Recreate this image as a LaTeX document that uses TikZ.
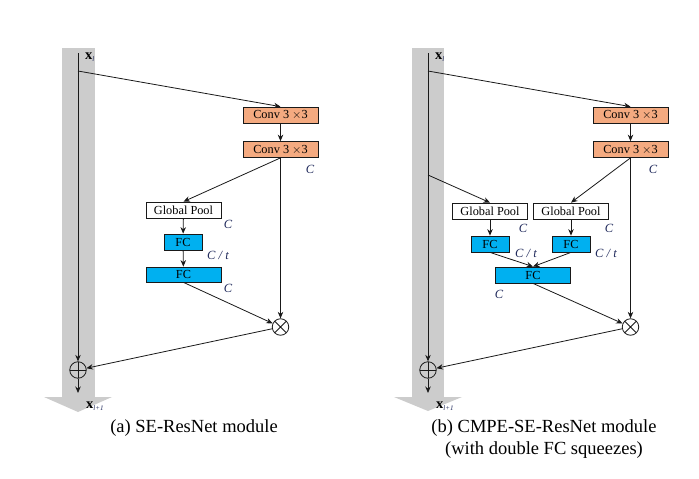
\documentclass[tikz,border=0pt]{standalone}
\usepackage{fontspec}
\setmainfont{Liberation Serif}
\usetikzlibrary{arrows.meta}
\definecolor{convc}{RGB}{244,170,128}
\definecolor{fcc}{RGB}{0,176,240}
\definecolor{bandc}{RGB}{204,204,204}
\definecolor{labc}{RGB}{30,40,90}
\definecolor{linec}{RGB}{25,25,25}
\tikzset{
  blk/.style={draw=linec, line width=0.75pt, inner sep=0pt, minimum height=16pt, font=\fontsize{12.3}{13}\selectfont},
  convbox/.style={blk, fill=convc, minimum width=75pt},
  poolbox/.style={blk, fill=white, minimum width=75pt},
  fcs/.style={blk, fill=fcc, minimum width=38pt},
  fcw/.style={blk, fill=fcc, minimum width=75pt},
  dimlab/.style={font=\fontsize{12.5}{13}\selectfont\itshape, text=labc, inner sep=0pt},
  xlab/.style={font=\fontsize{14.5}{15}\selectfont, inner sep=0pt, anchor=base west},
  conn/.style={draw=linec, line width=0.8pt},
  arr/.style={conn, -{Stealth[length=6.5pt,width=5.5pt]}},
  opc/.style={circle, draw=linec, line width=0.8pt, minimum size=16.5pt, inner sep=0pt},
  mulop/.style={opc, path picture={\draw[linec,line width=0.8pt] (path picture bounding box.north west)--(path picture bounding box.south east) (path picture bounding box.north east)--(path picture bounding box.south west);}},
  addop/.style={opc, path picture={\draw[linec,line width=0.8pt] (path picture bounding box.north)--(path picture bounding box.south) (path picture bounding box.east)--(path picture bounding box.west);}},
  captext/.style={font=\fontsize{18.5}{22}\selectfont, align=center, inner sep=0pt}
}
\newcommand{\subl}[1]{\raisebox{-2.5pt}{\fontsize{7}{8}\selectfont\color{labc}\textit{#1}}}
\begin{document}
\begin{tikzpicture}[x=1pt,y=-1pt]
\useasboundingbox (0,0) rectangle (699,479);
% bands
\fill[bandc] (62,48) rectangle (95,397);
\fill[bandc] (44,397) -- (112,397) -- (78,412) -- cycle;
\fill[bandc] (412,48) rectangle (444,397);
\fill[bandc] (394,397) -- (462,397) -- (428,411) -- cycle;

% ---------- left panel ----------
\coordinate (atop) at (78,53);
\coordinate (abr) at (78,71);
\coordinate (aout) at (78,393);
\node[xlab] (axl) at (85,59) {\textbf{x}\subl{l}};
\node[xlab] (axl1) at (86,408) {\textbf{x}\subl{l+1}};
\node[convbox] (aconv1) at (280.5,115) {Conv 3 $\times$3};
\node[convbox] (aconv2) at (280.5,149.5) {Conv 3 $\times$3};
\node[poolbox] (agp) at (183.5,210) {Global Pool};
\node[fcs] (afc1) at (183,242) {FC};
\node[fcw, minimum height=15pt] (afc2) at (183.5,274.5) {FC};
\node[mulop] (amul) at (280.5,327) {};
\node[addop] (aadd) at (78,370) {};
\node[dimlab] (acl1) at (310,169) {C};
\node[dimlab] (acl2) at (228,224) {C};
\node[dimlab] (acl3) at (218,255) {C / t};
\node[dimlab] (acl4) at (228,288) {C};
\node[captext] (acap) at (194,428) {(a) SE-ResNet module};

\draw[arr] (atop) -- (aadd);
\draw[arr] (abr) -- (aconv1.north);
\draw[arr] (aconv1) -- (aconv2);
\draw[arr] (aconv2.south) -- (agp.north);
\draw[arr] (agp) -- (afc1);
\draw[arr] (afc1) -- (afc2);
\draw[arr] (afc2.south) -- (amul);
\draw[arr] (aconv2.south) -- (amul);
\draw[arr] (amul) -- (aadd);
\draw[arr] (aadd) -- (aout);

% ---------- right panel ----------
\coordinate (btop) at (428,53);
\coordinate (bbr) at (428,71);
\coordinate (bbr2) at (428,175);
\coordinate (bout) at (428,393);
\node[xlab] (bxl) at (435,59) {\textbf{x}\subl{l}};
\node[xlab] (bxl1) at (436,408) {\textbf{x}\subl{l+1}};
\node[convbox] (bconv1) at (630.5,115) {Conv 3 $\times$3};
\node[convbox] (bconv2) at (630.5,149.5) {Conv 3 $\times$3};
\node[poolbox] (bgp1) at (490,211) {Global Pool};
\node[poolbox] (bgp2) at (571,211) {Global Pool};
\node[fcs] (bfc1) at (490,244) {FC};
\node[fcs] (bfc2) at (571,244) {FC};
\node[fcw] (bfc3) at (533,275) {FC};
\node[mulop] (bmul) at (630.5,327) {};
\node[addop] (badd) at (428,370) {};
\node[dimlab] (bcl1) at (653,169) {C};
\node[dimlab] (bcl2) at (523,228) {C};
\node[dimlab] (bcl3) at (609,228) {C};
\node[dimlab] (bcl4) at (526,253) {C / t};
\node[dimlab] (bcl5) at (606,253) {C / t};
\node[dimlab] (bcl6) at (499,294) {C};
\node[captext] (bcap) at (544,439) {(b) CMPE-SE-ResNet module\\(with double FC squeezes)};

\draw[arr] (btop) -- (badd);
\draw[arr] (bbr) -- (bconv1.north);
\draw[arr] (bconv1) -- (bconv2);
\draw[arr] (bbr2) -- (bgp1.north);
\draw[arr] (bconv2.south) -- (bgp2.north);
\draw[arr] (bgp1) -- (bfc1);
\draw[arr] (bgp2) -- (bfc2);
\draw[arr] (bfc1.south) -- (bfc3.north);
\draw[arr] (bfc2.south) -- (bfc3.north);
\draw[arr] (bfc3.south) -- (bmul);
\draw[arr] (bconv2.south) -- (bmul);
\draw[arr] (bmul) -- (badd);
\draw[arr] (badd) -- (bout);
\end{tikzpicture}
\end{document}
